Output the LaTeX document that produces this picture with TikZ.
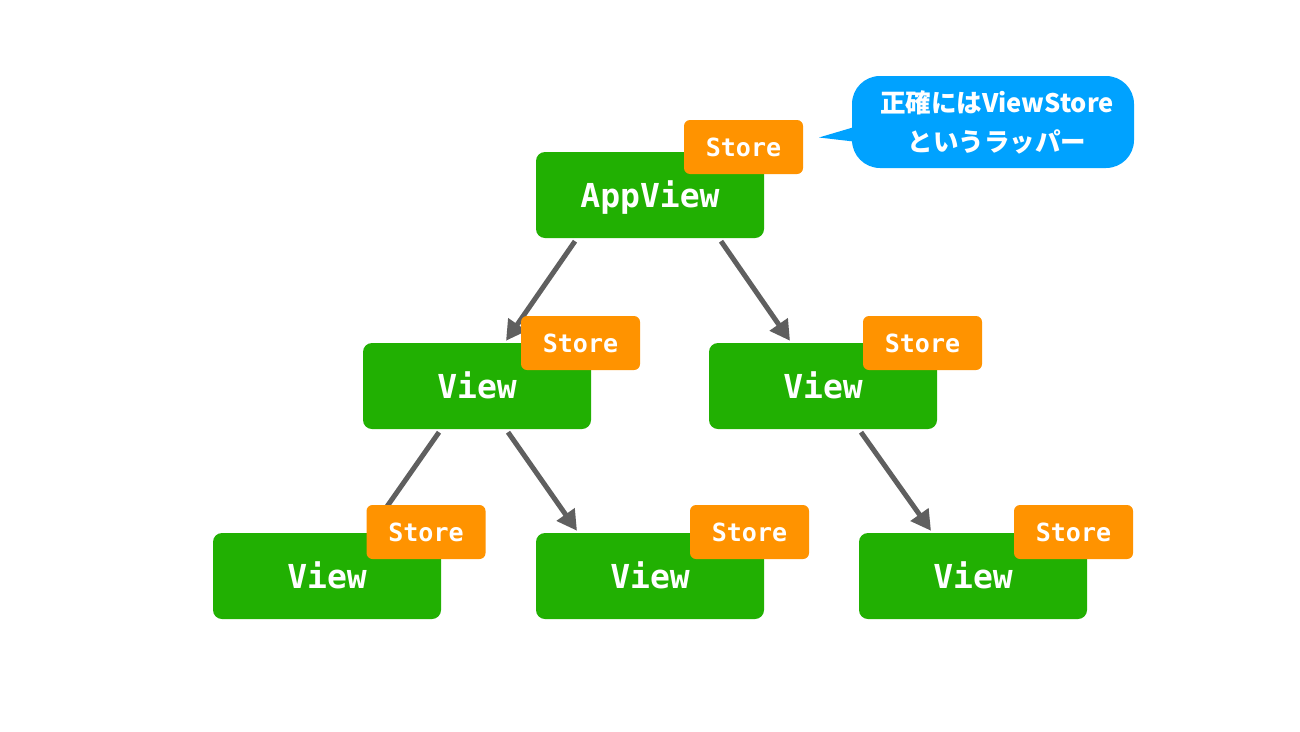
\documentclass[tikz,border=0pt]{standalone}
\usepackage{fontspec}
\newfontfamily\mono{DejaVu Sans Mono}
\newfontfamily\cjk{Noto Sans CJK JP}
\usetikzlibrary{arrows.meta,calc}
\definecolor{viewgreen}{RGB}{33,176,2}
\definecolor{storeorange}{RGB}{255,147,0}
\definecolor{noteblue}{RGB}{0,162,255}
\definecolor{arrowgray}{RGB}{95,95,95}
\begin{document}
\begin{tikzpicture}[x=1pt,y=-1pt,
  viewbox/.style={fill=viewgreen, rounded corners=9pt, minimum width=228pt, minimum height=86pt,
    inner sep=0pt, text=white, font=\mono\bfseries\fontsize{33}{33}\selectfont,
    text height=24pt, text depth=0pt},
  storebox/.style={fill=storeorange, rounded corners=6pt, minimum width=119pt, minimum height=54pt,
    inner sep=0pt, text=white, font=\mono\bfseries\fontsize{25}{25}\selectfont,
    text height=18pt, text depth=0pt},
  link/.style={draw=arrowgray, line width=5pt, -{Triangle[length=20pt,width=21pt]}},
  notebox/.style={fill=noteblue, rounded corners=28pt, minimum width=282pt, minimum height=92pt, inner sep=0pt},
  notetext/.style={text=white, align=center, inner sep=0pt, font=\cjk\bfseries\fontsize{25.5}{39}\selectfont},
]
\useasboundingbox[fill=white] (0,0) rectangle (1300,731);

% views
\node[viewbox] (app) at (650,195) {AppView};
\node[viewbox] (v1) at (477,386) {View};
\node[viewbox] (v2) at (823,386) {View};
\node[viewbox] (v3) at (327,576) {View};
\node[viewbox] (v4) at (650,576) {View};
\node[viewbox] (v5) at (973,576) {View};

% connectors
\draw[link] ($(app.south)+(-75,3)$) -- ($(v1.north)+(29,-2)$);
\draw[link] ($(app.south)+(71,3)$) -- ($(v2.north)+(-33,-2)$);
\draw[link] ($(v1.south)+(-38,3)$) -- ($(v3.north)+(43,-2)$);
\draw[link] ($(v1.south)+(31,3)$) -- ($(v4.north)+(-73,-2)$);
\draw[link] ($(v2.south)+(38,3)$) -- ($(v5.north)+(-42,-2)$);

% stores
\node[storebox] (s0) at (743.5,147) {Store};
\node[storebox] (s1) at (580.5,343) {Store};
\node[storebox] (s2) at (922.5,343) {Store};
\node[storebox] (s3) at (426,532) {Store};
\node[storebox] (s4) at (749.5,532) {Store};
\node[storebox] (s5) at (1073.5,532) {Store};

% callout
\node[notebox] (note) at (993,122) {};
\coordinate (notetip) at (819,137.5);
\fill[noteblue] ($(note.west)+(6,4)$) -- (notetip) -- ($(note.west)+(6,20)$) -- cycle;
\node[notetext] (notelabel) at (997,122) {正確にはViewStore\\というラッパー};
\end{tikzpicture}
\end{document}
